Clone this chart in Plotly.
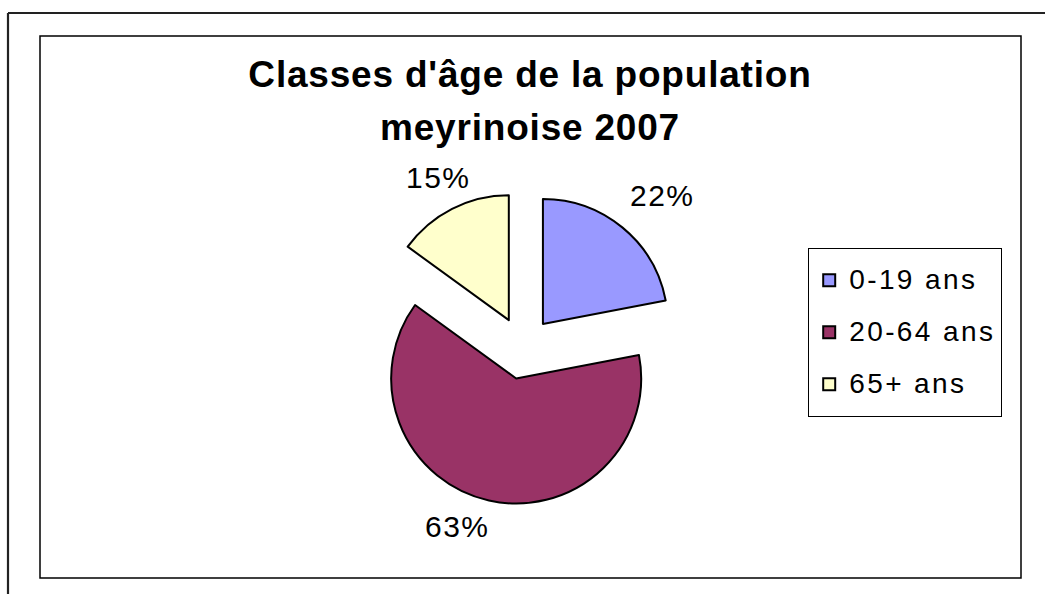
import math
import plotly.graph_objects as go

# ---- data ----
categories = ["0-19 ans", "20-64 ans", "65+ ans"]
values = [22, 63, 15]
title_lines = ["Classes d'âge de la population", "meyrinoise 2007"]

# ---- style ----
colors = ["#9999FF", "#993366", "#FFFFCC"]
W, H = 1045, 594
FONT = "Liberation Sans, Arial, sans-serif"
cx, cy = 523, 348          # pie centre (px)
r = 125                    # pie radius (px)
pull = 0.25
label_rx, label_ry = 212, 192   # distance of percent labels from centre (px)
label_nudge = [(4, -5), (-19, -9), (12, 1)]   # small per-label offsets (px), in slice order

half = r * (1 + pull)
dom_x = [(cx - half) / W, (cx + half) / W]
dom_y = [1 - (cy + half) / H, 1 - (cy - half) / H]

legend_labels = [f'<span style="font-size:28px;letter-spacing:2.4px;baseline-shift:6px">{c}</span>'
                 for c in categories]

fig = go.Figure(go.Pie(
    labels=legend_labels,
    values=values,
    sort=False,
    direction="clockwise",
    rotation=0,
    pull=[pull] * len(values),
    marker=dict(colors=colors, line=dict(color="black", width=2)),
    textinfo="none",
    hoverinfo="label+percent",
    domain=dict(x=dom_x, y=dom_y),
))

# percent labels placed along each slice bisector
total = sum(values)
annotations = []
cum = 0
for v, (nx, ny) in zip(values, label_nudge):
    theta = 2 * math.pi * (cum + v / 2) / total
    cum += v
    px = cx + label_rx * math.sin(theta) + nx
    py = cy - label_ry * math.cos(theta) + ny
    annotations.append(dict(
        x=px / W, y=1 - py / H, xref="paper", yref="paper",
        text=f'<span style="letter-spacing:1.5px">{round(100 * v / total)}%</span>',
        showarrow=False, xanchor="center", yanchor="middle",
        font=dict(family=FONT, size=30, color="black"),
    ))

def px2x(p):
    return p / W

def py2y(p):
    return 1 - p / H

shapes = [
    # inner chart-area frame
    dict(type="rect", xref="paper", yref="paper",
         x0=px2x(40), x1=px2x(1021), y0=py2y(578), y1=py2y(36),
         line=dict(color="black", width=1.5)),
    # outer frame (top and left edges visible)
    dict(type="line", xref="paper", yref="paper",
         x0=px2x(8), x1=px2x(1046), y0=py2y(13), y1=py2y(13),
         line=dict(color="#222222", width=2.2)),
    dict(type="line", xref="paper", yref="paper",
         x0=px2x(8), x1=px2x(8), y0=py2y(13), y1=py2y(600),
         line=dict(color="#222222", width=2.2)),
]

fig.update_layout(
    width=W, height=H,
    margin=dict(l=0, r=0, t=0, b=0),
    paper_bgcolor="white",
    plot_bgcolor="white",
    font=dict(family=FONT, color="black"),
    title=dict(
        text='<b><span style="font-size:37px;letter-spacing:0.8px">'
             + "<br>".join(title_lines) + "</span></b>",
        x=530 / W, xanchor="center",
        y=1 - 87 / H, yanchor="top",
        font=dict(family=FONT, size=40.7, color="black"),
    ),
    legend=dict(
        x=808 / W, xanchor="left",
        y=1 - 248 / H, yanchor="top",
        bordercolor="black", borderwidth=1.2,
        bgcolor="white",
        font=dict(family=FONT, size=37.7, color="black"),
        itemclick=False, itemdoubleclick=False,
    ),
    annotations=annotations,
    shapes=shapes,
    showlegend=True,
)

fig.write_html(
    "out.html",
    config={"displayModeBar": False},
    post_script="document.body.style.margin='0';document.body.style.overflow='hidden';",
)
